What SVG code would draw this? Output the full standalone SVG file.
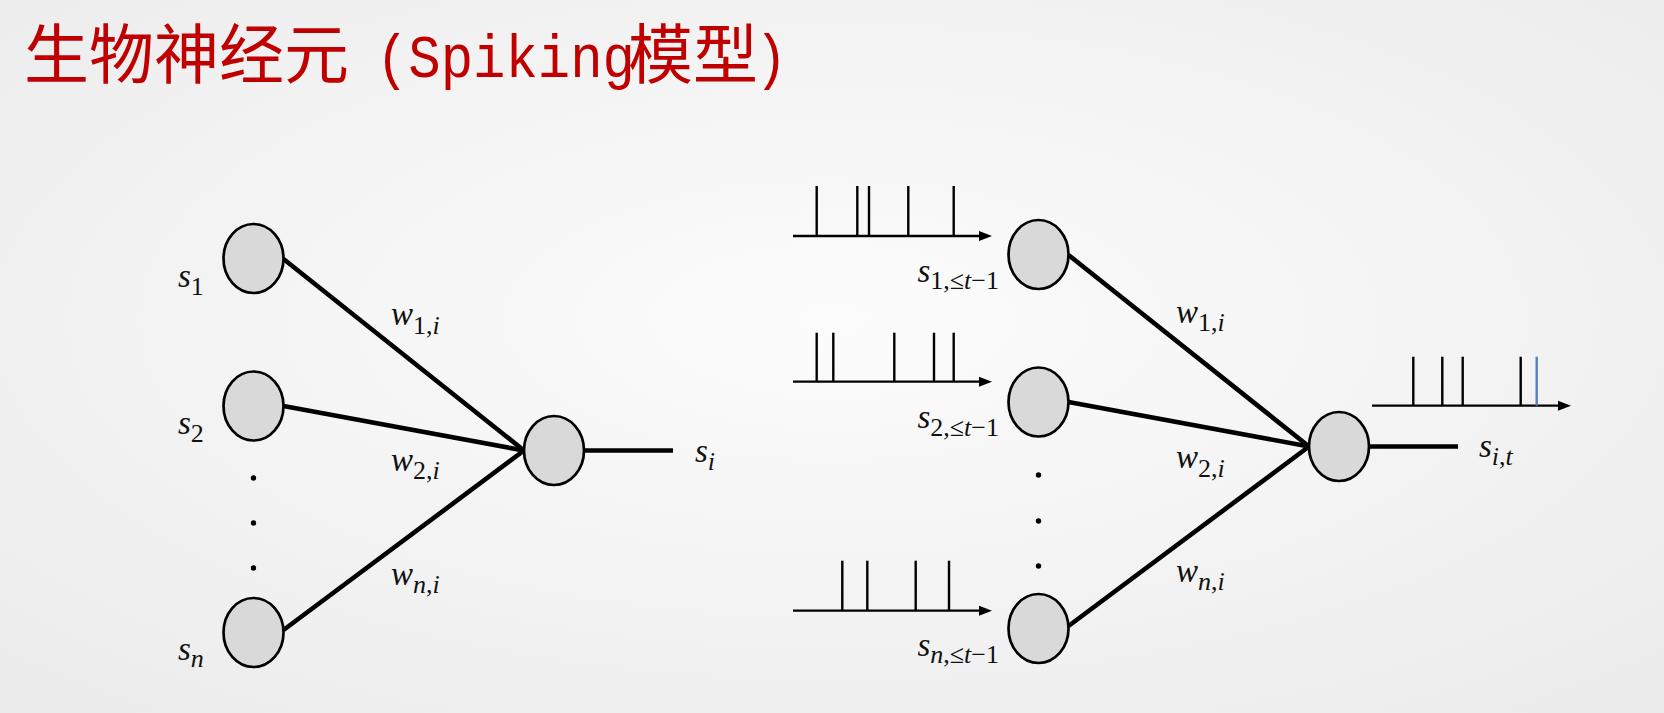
<svg xmlns="http://www.w3.org/2000/svg" width="1664" height="713" viewBox="0 0 1664 713">
<style>
.bg{fill:url(#bgGrad)}
.node{fill:#D9D9D9;stroke:#000;stroke-width:2.7}
.conn{stroke:#000;stroke-width:4.6;fill:none}
.axis{stroke:#000;stroke-width:2.3;fill:none}
.spike{stroke:#000;stroke-width:2.4}
.spike-blue{stroke:#4F81BD;stroke-width:2.4}
.dot{fill:#000}
.m{font-family:"Liberation Serif","DejaVu Serif",serif;font-size:33px;fill:#111}
.it{font-style:italic}
.sub{font-size:26px}
.title-cjk{font-family:"Noto Sans CJK SC","Noto Sans CJK JP",sans-serif;font-size:65px;fill:#C00000}
.title-lat{font-family:"Liberation Mono","DejaVu Sans Mono",monospace;font-size:62px;fill:#C00000}
</style>
<defs>
<radialGradient id="bgGrad" cx="50%" cy="45%" r="70%">
<stop offset="0" stop-color="#FCFCFC"/>
<stop offset="1" stop-color="#ECECEC"/>
</radialGradient>
<marker id="arr" markerUnits="userSpaceOnUse" markerWidth="13" markerHeight="11" refX="0" refY="5" orient="auto" viewBox="0 0 13 10">
<path d="M0,0 L13,5 L0,10 z" fill="#000"/>
</marker>
</defs>
<rect class="bg" x="0" y="0" width="1664" height="713"/>

<g id="title">
<text class="title-cjk" x="24" y="78">生物神经元</text>
<text class="title-lat" transform="translate(376,77) scale(0.87,1)" x="0" y="0">(Spiking</text>
<text class="title-cjk" x="628" y="78">模型</text>
<text class="title-lat" transform="translate(755,77) scale(0.87,1)" x="0" y="0">)</text>
</g>

<g id="connectors">
<line class="conn" x1="283.5" y1="259" x2="524" y2="450.5"/>
<line class="conn" x1="283.5" y1="406" x2="524" y2="450.5"/>
<line class="conn" x1="283.5" y1="630" x2="524" y2="450.5"/>
<line class="conn" x1="584" y1="450.5" x2="673" y2="450.5"/>
<line class="conn" x1="1068.5" y1="255" x2="1309" y2="446.5"/>
<line class="conn" x1="1068.5" y1="402" x2="1309" y2="446.5"/>
<line class="conn" x1="1068.5" y1="626" x2="1309" y2="446.5"/>
<line class="conn" x1="1369" y1="446.5" x2="1458" y2="446.5"/>
</g>

<g id="left-s1"><ellipse class="node" cx="253.5" cy="258.5" rx="30" ry="34.5"/>
<text class="m" x="178" y="287"><tspan class="it">s</tspan><tspan class="sub" dy="8">1</tspan></text></g>
<g id="left-s2"><ellipse class="node" cx="253.5" cy="406" rx="30" ry="34.5"/>
<text class="m" x="178" y="434"><tspan class="it">s</tspan><tspan class="sub" dy="8">2</tspan></text></g>
<g id="left-sn"><ellipse class="node" cx="253.5" cy="632.5" rx="30" ry="34.5"/>
<text class="m" x="178" y="660"><tspan class="it">s</tspan><tspan class="sub it" dy="7">n</tspan></text></g>
<g id="left-dots"><circle class="dot" cx="253.5" cy="478" r="2.7"/><circle class="dot" cx="253.5" cy="523" r="2.7"/><circle class="dot" cx="253.5" cy="568" r="2.7"/></g>
<g id="left-si"><ellipse class="node" cx="554" cy="450.5" rx="30" ry="34.5"/>
<text class="m" x="695" y="462"><tspan class="it">s</tspan><tspan class="sub it" dy="8">i</tspan></text></g>
<g id="left-weights">
<text class="m" x="391" y="325"><tspan class="it">w</tspan><tspan class="sub" dy="9">1,<tspan class="it">i</tspan></tspan></text>
<text class="m" x="391" y="471"><tspan class="it">w</tspan><tspan class="sub" dy="8">2,<tspan class="it">i</tspan></tspan></text>
<text class="m" x="391" y="585"><tspan class="it">w</tspan><tspan class="sub" dy="8"><tspan class="it">n</tspan>,<tspan class="it">i</tspan></tspan></text>
</g>

<g id="train-1">
<line class="axis" x1="793" y1="236" x2="979" y2="236" marker-end="url(#arr)"/>
<line class="spike" x1="816.7" y1="186" x2="816.7" y2="236"/>
<line class="spike" x1="857.3" y1="186" x2="857.3" y2="236"/>
<line class="spike" x1="869" y1="186" x2="869" y2="236"/>
<line class="spike" x1="908.3" y1="186" x2="908.3" y2="236"/>
<line class="spike" x1="953.7" y1="186" x2="953.7" y2="236"/>
</g>
<g id="train-2">
<line class="axis" x1="793" y1="381.7" x2="979" y2="381.7" marker-end="url(#arr)"/>
<line class="spike" x1="816.7" y1="332.7" x2="816.7" y2="381.7"/>
<line class="spike" x1="833.3" y1="332.7" x2="833.3" y2="381.7"/>
<line class="spike" x1="894.3" y1="332.7" x2="894.3" y2="381.7"/>
<line class="spike" x1="934" y1="332.7" x2="934" y2="381.7"/>
<line class="spike" x1="953.7" y1="332.7" x2="953.7" y2="381.7"/>
</g>
<g id="train-n">
<line class="axis" x1="793" y1="610.7" x2="979" y2="610.7" marker-end="url(#arr)"/>
<line class="spike" x1="842.3" y1="560.7" x2="842.3" y2="610.7"/>
<line class="spike" x1="867.3" y1="560.7" x2="867.3" y2="610.7"/>
<line class="spike" x1="915.7" y1="560.7" x2="915.7" y2="610.7"/>
<line class="spike" x1="949" y1="560.7" x2="949" y2="610.7"/>
</g>
<g id="train-out">
<line class="axis" x1="1372" y1="405.7" x2="1558" y2="405.7" marker-end="url(#arr)"/>
<line class="spike" x1="1413.3" y1="356.7" x2="1413.3" y2="405.7"/>
<line class="spike" x1="1442.3" y1="356.7" x2="1442.3" y2="405.7"/>
<line class="spike" x1="1462.7" y1="356.7" x2="1462.7" y2="405.7"/>
<line class="spike" x1="1520.7" y1="356.7" x2="1520.7" y2="405.7"/>
<line class="spike-blue" x1="1536.7" y1="356.7" x2="1536.7" y2="405.7"/>
</g>

<g id="right-s1"><ellipse class="node" cx="1038.5" cy="254.5" rx="30" ry="34.5"/>
<text class="m" x="999" y="282" text-anchor="end"><tspan class="it">s</tspan><tspan class="sub" dy="7">1,≤<tspan class="it">t</tspan>−1</tspan></text></g>
<g id="right-s2"><ellipse class="node" cx="1038.5" cy="402" rx="30" ry="34.5"/>
<text class="m" x="999" y="428" text-anchor="end"><tspan class="it">s</tspan><tspan class="sub" dy="8">2,≤<tspan class="it">t</tspan>−1</tspan></text></g>
<g id="right-sn"><ellipse class="node" cx="1038.5" cy="628.5" rx="30" ry="34.5"/>
<text class="m" x="999" y="656" text-anchor="end"><tspan class="it">s</tspan><tspan class="sub" dy="7"><tspan class="it">n</tspan>,≤<tspan class="it">t</tspan>−1</tspan></text></g>
<g id="right-dots"><circle class="dot" cx="1038.5" cy="475" r="2.7"/><circle class="dot" cx="1038.5" cy="521" r="2.7"/><circle class="dot" cx="1038.5" cy="566" r="2.7"/></g>
<g id="right-si"><ellipse class="node" cx="1339" cy="446.5" rx="30" ry="34.5"/>
<text class="m" x="1479" y="457"><tspan class="it">s</tspan><tspan class="sub" dy="8"><tspan class="it">i</tspan>,<tspan class="it">t</tspan></tspan></text></g>
<g id="right-weights">
<text class="m" x="1176" y="323"><tspan class="it">w</tspan><tspan class="sub" dy="8">1,<tspan class="it">i</tspan></tspan></text>
<text class="m" x="1176" y="468"><tspan class="it">w</tspan><tspan class="sub" dy="9">2,<tspan class="it">i</tspan></tspan></text>
<text class="m" x="1176" y="582"><tspan class="it">w</tspan><tspan class="sub" dy="8"><tspan class="it">n</tspan>,<tspan class="it">i</tspan></tspan></text>
</g>
</svg>
